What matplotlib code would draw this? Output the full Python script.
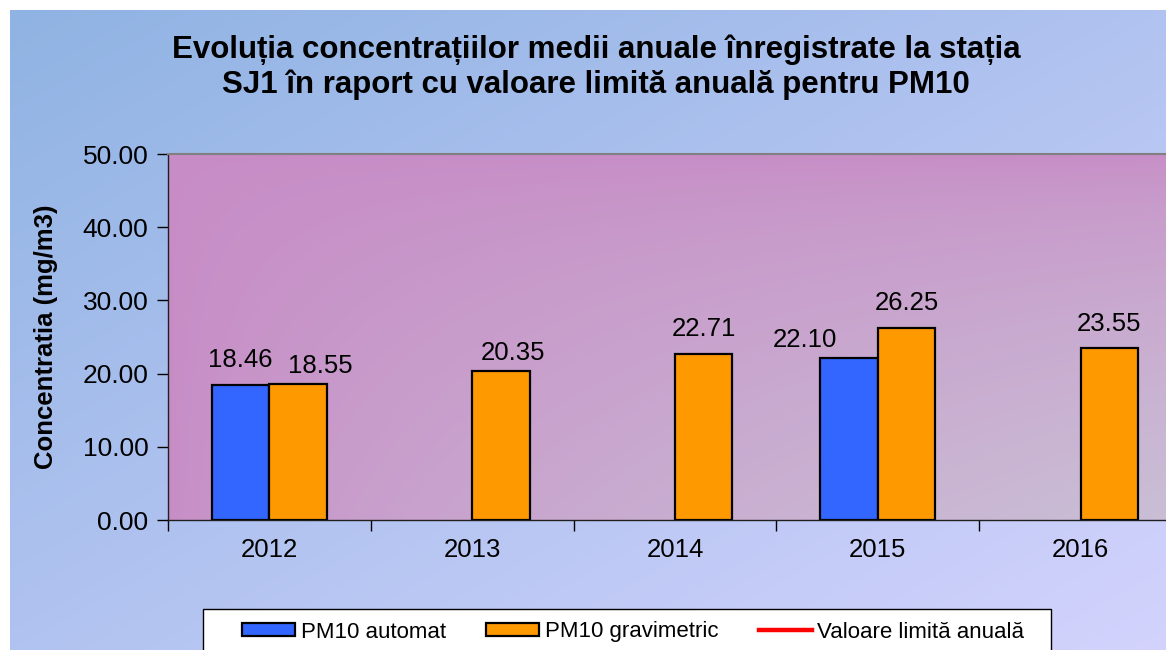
import numpy as np
import matplotlib
matplotlib.use('Agg')
import matplotlib.pyplot as plt
from matplotlib.lines import Line2D
from matplotlib.patches import Patch, Rectangle

# data
years = ['2012', '2013', '2014', '2015', '2016']
pm10_automat = [18.46, np.nan, np.nan, 22.10, np.nan]
pm10_gravimetric = [18.55, 20.35, 22.71, 26.25, 23.55]
y_ticks = [0, 10, 20, 30, 40, 50]

title = 'Evoluția concentrațiilor medii anuale înregistrate la stația\nSJ1 în raport cu valoare limită anuală pentru PM10'
ylabel = 'Concentratia (mg/m3)'
legend_labels = ['PM10 automat', 'PM10 gravimetric', 'Valoare limită anuală']

# decalages des etiquettes (x en categories, y en mg/m3), comme dans l'original
auto_dx = [0, 0, 0, -0.22, 0]
auto_dy = [1.7, 0, 0, 0.8, 0]
grav_dx = [0.11, 0.06, 0, 0, 0]
grav_dy = [0.9, 0.8, 1.7, 1.7, 1.6]

plt.rcParams['font.family'] = ['Liberation Sans', 'DejaVu Sans']

W, H = 1166, 650
fig = plt.figure(figsize=(W / 100, H / 100), dpi=100)
fig.patch.set_facecolor('white')


def gradient(c1, c2, mode='diag', n=256):
    c1 = np.array(matplotlib.colors.to_rgb(c1))
    c2 = np.array(matplotlib.colors.to_rgb(c2))
    yy, xx = np.mgrid[0:1:n * 1j, 0:1:n * 1j]
    if mode == 'diag':
        t = (0.5 * yy + 0.5 * xx)
    else:
        t = (xx * yy) ** 0.6
    t = t / t.max()
    return c1[None, None, :] * (1 - t[..., None]) + c2[None, None, :] * t[..., None]


# fond general (marge blanche en haut et a gauche)
bg = fig.add_axes([10 / W, 0, 1 - 10 / W, 1 - 10 / H], zorder=-10)
bg.imshow(gradient('#8fb3e3', '#d3d3fd'), aspect='auto', extent=[0, 1, 0, 1], origin='upper')
bg.axis('off')

ax = fig.add_axes([168 / W, 1 - 520 / H, (1182 - 168) / W, (520 - 154) / H])
ax.set_facecolor('none')
ax.imshow(gradient('#c78cc6', '#cabfd6', mode='corner'), aspect='auto', extent=[0, 1, 0, 1],
          origin='upper', transform=ax.transAxes, zorder=0)

x = np.arange(len(years))
w = 0.283
ax.bar(x - w / 2, pm10_automat, w, color='#3366ff', edgecolor='black', linewidth=1.6, zorder=2)
ax.bar(x + w / 2, pm10_gravimetric, w, color='#ff9900', edgecolor='black', linewidth=1.6, zorder=2)

for i, v in enumerate(pm10_automat):
    if not np.isnan(v):
        ax.text(i - w / 2 + auto_dx[i], v + auto_dy[i], '%.2f' % v, ha='center', va='bottom',
                fontsize=18.5, zorder=3)
for i, v in enumerate(pm10_gravimetric):
    ax.text(i + w / 2 + grav_dx[i], v + grav_dy[i], '%.2f' % v, ha='center', va='bottom',
            fontsize=18.5, zorder=3)

ax.set_xlim(-0.5, len(years) - 0.5)
ax.set_ylim(0, 50)
ax.set_yticks(y_ticks)
ax.set_yticklabels(['%.2f' % t for t in y_ticks], fontsize=19)
ax.set_xticks(x)
ax.set_xticklabels(years, fontsize=18.5)
ax.tick_params(axis='x', length=0, pad=13)
ax.set_xticks(np.arange(len(years) + 1) - 0.5, minor=True)
ax.tick_params(axis='x', which='minor', length=8, width=1)
ax.tick_params(axis='y', length=8, width=1, pad=6)
for s in ['left', 'bottom']:
    ax.spines[s].set_color('#202020')
    ax.spines[s].set_linewidth(1)
ax.spines['top'].set_color('#808080')
ax.spines['top'].set_linewidth(1.5)
ax.spines['right'].set_visible(False)
ax.set_ylabel(ylabel, fontsize=18.5, fontweight='bold', labelpad=18)

fig.text(596 / W, 1 - 67 / H, title, ha='center', va='center', fontsize=22.5,
         fontweight='bold', linespacing=1.2)

# cadre de la legende (coupe en bas)
fig.patches.append(Rectangle((203 / W, -0.05), (1051 - 203) / W, 0.05 + (650 - 609) / H,
                             transform=fig.transFigure, facecolor='white',
                             edgecolor='black', linewidth=1, zorder=5))
handles = [Patch(facecolor='#3366ff', edgecolor='black', linewidth=1.6),
           Patch(facecolor='#ff9900', edgecolor='black', linewidth=1.6),
           Line2D([0], [0], color='red', linewidth=3.2)]
leg = fig.legend(handles, legend_labels, loc='center left',
                 bbox_to_anchor=(242 / W, 1 - 632 / H),
                 ncol=3, frameon=False, prop={'size': 16},
                 handlelength=2.4, handleheight=0.55, handletextpad=0.25,
                 columnspacing=1.8, borderaxespad=0, borderpad=0)
leg.set_zorder(6)

fig.savefig('out.png', dpi=100)
